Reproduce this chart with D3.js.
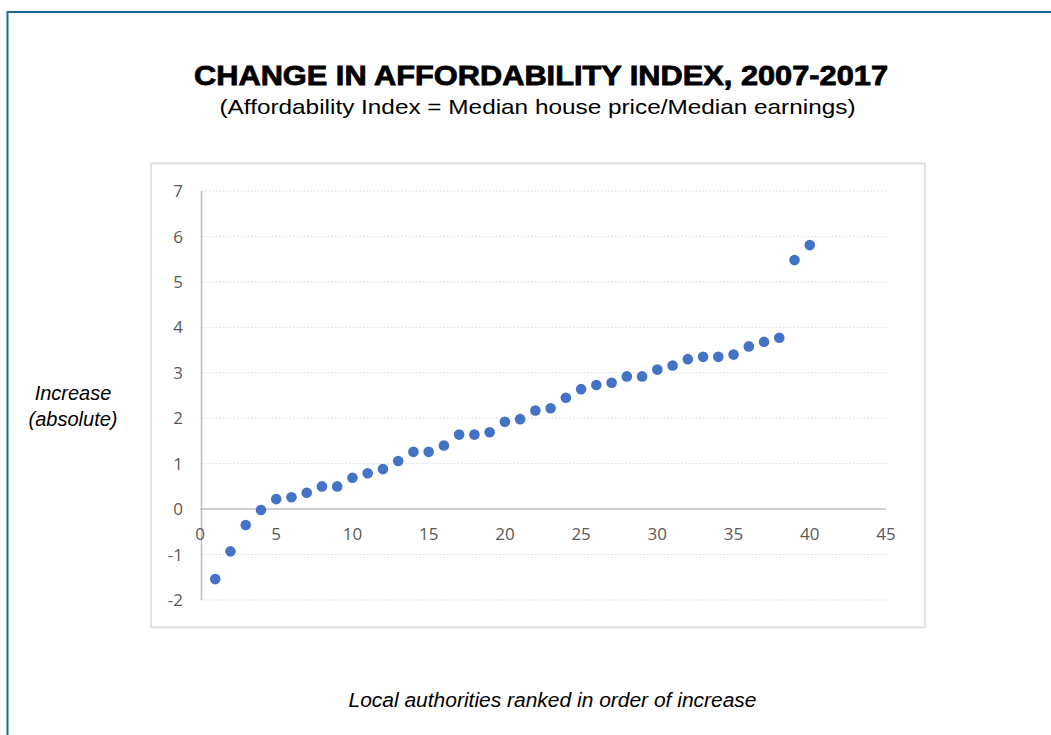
<!DOCTYPE html>
<html>
<head>
<meta charset="utf-8">
<script src="https://cdn.jsdelivr.net/npm/d3@7"></script>
<style>
  body { margin: 0; background: #fff; }
  svg { display: block; }
</style>
</head>
<body>
<div id="chart"></div>
<script>
// Ranked increase in affordability index for each local authority
const ranks = d3.range(1, 41);
const increases = [
  -1.54, -0.93, -0.35, -0.02, 0.22, 0.26, 0.36, 0.50, 0.50, 0.69,
  0.79, 0.88, 1.06, 1.26, 1.26, 1.40, 1.64, 1.64, 1.69, 1.92,
  1.98, 2.17, 2.22, 2.45, 2.64, 2.73, 2.78, 2.92, 2.92, 3.07,
  3.16, 3.30, 3.35, 3.35, 3.40, 3.58, 3.68, 3.77, 5.48, 5.81
];
const xTicks = [0, 5, 10, 15, 20, 25, 30, 35, 40, 45];
const yTicks = [-2, -1, 0, 1, 2, 3, 4, 5, 6, 7];

const width = 1051, height = 735;
const svg = d3.select('#chart').append('svg')
  .attr('width', width)
  .attr('height', height);

// outer frame
svg.append('rect')
  .attr('x', 7.5).attr('y', 12)
  .attr('width', width + 20).attr('height', height + 20)
  .attr('fill', 'none')
  .attr('stroke', '#1b6a93')
  .attr('stroke-width', 2);

// inner chart box
svg.append('rect')
  .attr('x', 151).attr('y', 163.5)
  .attr('width', 774).attr('height', 464)
  .attr('fill', '#fff')
  .attr('stroke', '#d9d9d9')
  .attr('stroke-width', 1.5);

const x = d3.scaleLinear().domain([0, 45]).range([200, 886]);
const y = d3.scaleLinear().domain([-2, 7]).range([600, 191]);

// gridlines
svg.append('g')
  .selectAll('line')
  .data(yTicks.filter(d => d !== 0))
  .join('line')
  .attr('x1', x(0) + 2).attr('x2', x(45))
  .attr('y1', d => y(d)).attr('y2', d => y(d))
  .attr('stroke', '#d9d9d9')
  .attr('stroke-width', 1)
  .attr('stroke-dasharray', '1.5,2');

// axes lines
svg.append('line')
  .attr('x1', x(0)).attr('x2', x(45))
  .attr('y1', y(0)).attr('y2', y(0))
  .attr('stroke', '#bfbfbf').attr('stroke-width', 1.5);
svg.append('line')
  .attr('x1', x(0) + 1.5).attr('x2', x(0) + 1.5)
  .attr('y1', y(7)).attr('y2', y(-2))
  .attr('stroke', '#bfbfbf').attr('stroke-width', 1.5);

const tickFont = '"Open Sans", sans-serif';

// y tick labels
svg.append('g')
  .selectAll('text')
  .data(yTicks)
  .join('text')
  .attr('x', 183)
  .attr('y', d => y(d))
  .attr('dy', '0.36em')
  .attr('text-anchor', 'end')
  .attr('font-family', tickFont)
  .attr('font-size', '17px')
  .attr('fill', '#595959')
  .text(d => d);

// x tick labels
svg.append('g')
  .selectAll('text')
  .data(xTicks)
  .join('text')
  .attr('x', d => x(d))
  .attr('y', y(0) + 25)
  .attr('dy', '0.36em')
  .attr('text-anchor', 'middle')
  .attr('font-family', tickFont)
  .attr('font-size', '17px')
  .attr('fill', '#595959')
  .text(d => d);

// points
svg.append('g')
  .selectAll('circle')
  .data(ranks.map((r, i) => ({ rank: r, value: increases[i] })))
  .join('circle')
  .attr('cx', d => x(d.rank))
  .attr('cy', d => y(d.value))
  .attr('r', 5.3)
  .attr('fill', '#4472c4');

const labelFont = '"Liberation Sans", Arial, sans-serif';

// titles
svg.append('text')
  .attr('x', 541).attr('y', 85)
  .attr('text-anchor', 'middle')
  .attr('font-family', labelFont)
  .attr('font-size', '27px')
  .attr('font-weight', 'bold')
  .attr('stroke', '#000')
  .attr('stroke-width', 0.8)
  .attr('fill', '#000')
  .attr('textLength', 694)
  .attr('lengthAdjust', 'spacingAndGlyphs')
  .text('CHANGE IN AFFORDABILITY INDEX, 2007-2017');

svg.append('text')
  .attr('x', 537.5).attr('y', 114)
  .attr('text-anchor', 'middle')
  .attr('font-family', labelFont)
  .attr('font-size', '21px')
  .attr('fill', '#000')
  .attr('textLength', 636)
  .attr('lengthAdjust', 'spacingAndGlyphs')
  .text('(Affordability Index = Median house price/Median earnings)');

svg.append('text')
  .attr('x', 73).attr('y', 400)
  .attr('text-anchor', 'middle')
  .attr('font-family', labelFont)
  .attr('font-size', '20px')
  .attr('font-style', 'italic')
  .text('Increase');
svg.append('text')
  .attr('x', 73).attr('y', 426)
  .attr('text-anchor', 'middle')
  .attr('font-family', labelFont)
  .attr('font-size', '20px')
  .attr('font-style', 'italic')
  .text('(absolute)');

svg.append('text')
  .attr('x', 552.5).attr('y', 707)
  .attr('text-anchor', 'middle')
  .attr('font-family', labelFont)
  .attr('font-size', '20px')
  .attr('font-style', 'italic')
  .attr('textLength', 408)
  .attr('lengthAdjust', 'spacingAndGlyphs')
  .text('Local authorities ranked in order of increase');
</script>
</body>
</html>
